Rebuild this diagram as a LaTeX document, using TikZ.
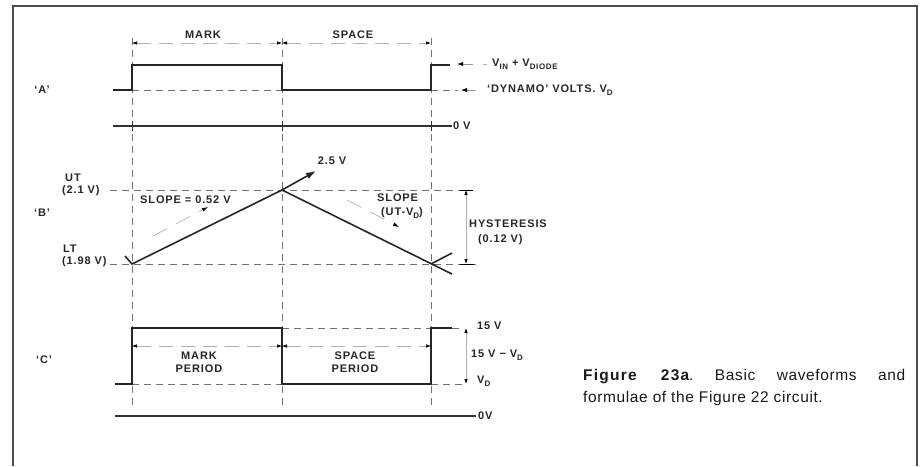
\documentclass[tikz,border=0pt]{standalone}
\usepackage{fontspec}
\setmainfont{Liberation Sans}
\newfontfamily\lblfont[LetterSpace=8]{Liberation Sans}
\newfontfamily\capfont[LetterSpace=4, BoldFeatures={LetterSpace=8}]{Liberation Sans}
\usetikzlibrary{arrows.meta}
\newcommand\dsub[1]{\raisebox{-0.5ex}{\fontsize{8}{8}\selectfont #1}}
\begin{document}
\begin{tikzpicture}[x=1pt,y=-1pt,
  sig/.style={line width=1.6pt, black!85, line join=miter},
  base/.style={line width=1.3pt, black!80},
  guide/.style={line width=1pt, black!55, dash pattern=on 7pt off 5pt},
  dimline/.style={line width=0.6pt, black!30, dash pattern=on 14pt off 8pt,
     {Latex[length=5pt,width=3.5pt,black]}-{Latex[length=5pt,width=3.5pt,black]}},
  slopearr/.style={line width=0.7pt, black!30, dash pattern=on 16pt off 10pt,
     -{Latex[length=6pt,width=4pt,black]}},
  ptr/.style={line width=0.6pt, black!40, -{Latex[length=6pt,width=4pt,black]}},
  lbl/.style={font=\lblfont\fontsize{11}{13}\selectfont\bfseries, inner sep=0pt, text=black!85},
  captxt/.style={font=\capfont\fontsize{15.5}{18}\selectfont\frenchspacing, inner sep=0pt, text=black!90},
]
\useasboundingbox (0,0) rectangle (921,466);
% frame
\draw[line width=1.5pt, black!70] (13,466) -- (13,6) -- (917,6) -- (917,466);

% vertical guides
\foreach \x/\n in {132/g1,282/g2,431/g3}{
  \coordinate (\n t) at (\x,38);
  \coordinate (\n b) at (\x,410);
  \draw[guide] (\n t) -- (\n b);
}

% ---------- A ----------
\coordinate (a0) at (113,90);
\coordinate (a1) at (132,90);
\coordinate (a2) at (132,65);
\coordinate (a3) at (282,65);
\coordinate (a4) at (282,90);
\coordinate (a5) at (431,90);
\coordinate (a6) at (431,65);
\coordinate (a7) at (450,65);
\draw[guide] (a1) -- (a4);
\draw[guide] (a5) -- (458,90);
\draw[sig] (a0) -- (a1) -- (a2) -- (a3) -- (a4) -- (a5) -- (a6) -- (a7);
\coordinate (mk1) at (132,43);
\coordinate (mk2) at (282,43);
\coordinate (mk3) at (431,43);
\draw[dimline] (mk1) -- (mk2);
\draw[dimline] (mk2) -- (mk3);
\node[lbl] (mark) at (203,35) {MARK};
\node[lbl] (space) at (353,35) {SPACE};
\node[lbl, anchor=west] (vin) at (492,64) {V\dsub{IN} + V\dsub{DIODE}};
\node[lbl, anchor=west] (dyn) at (487,90) {‘DYNAMO’ VOLTS. V\dsub{D}};
\coordinate (pv1) at (473,64);
\coordinate (pv2) at (457,64);
\coordinate (pd1) at (476,90);
\coordinate (pd2) at (461,90);
\draw[ptr] (pv1) -- (pv2);
\draw[ptr] (pd1) -- (pd2);
\draw[line width=0.6pt, black!30] (483,64) -- (487,64);
\node[lbl] (A) at (42,90) {‘A’};
\coordinate (za0) at (113,126);
\coordinate (za1) at (452,126);
\draw[base] (za0) -- (za1);
\foreach \x in {132,282,431}{\draw[line width=1pt, black!80] (\x,121) -- (\x,131);}
\node[lbl, anchor=west] (zA) at (453,126) {0 V};

% ---------- B ----------
\coordinate (ut0) at (110,190);
\coordinate (ut1) at (473,190);
\coordinate (lt0) at (110,264);
\coordinate (lt1) at (476,264);
\draw[guide] (ut0) -- (ut1);
\draw[guide] (lt0) -- (lt1);
\coordinate (b0) at (125,256);
\coordinate (b1) at (132,264);
\coordinate (b2) at (282,190);
\coordinate (b3) at (452,274);
\coordinate (b4) at (431,264);
\coordinate (b5) at (452,253);
\draw[sig] (b0) -- (b1) -- (b2) -- (b3);
\draw[sig] (b4) -- (b5);
\coordinate (b6) at (316,171);
\draw[sig, -{Latex[length=10pt,width=7pt]}] (b2) -- (b6);
\node[lbl] (v25) at (332,161) {2.5 V};
\node[lbl, anchor=west] (ut) at (65,178) {UT};
\node[lbl, anchor=west] (utv) at (62,191) {(2.1 V)};
\node[lbl, anchor=west] (lt) at (63,249) {LT};
\node[lbl, anchor=west] (ltv) at (62,262) {(1.98 V)};
\node[lbl] (B) at (42,213) {‘B’};
\node[lbl, anchor=west] (sl1) at (140,200) {SLOPE = 0.52 V};
\coordinate (s1a) at (153,236);
\coordinate (s1b) at (208,207);
\draw[slopearr] (s1a) -- (s1b);
\node[lbl, anchor=west] (sl2) at (377,198) {SLOPE};
\node[lbl, anchor=west] (sl2b) at (381,213) {(UT-V\dsub{D})};
\coordinate (s2a) at (347,200);
\coordinate (s2b) at (399,227);
\draw[slopearr] (s2a) -- (s2b);
\coordinate (h1) at (466,190);
\coordinate (h2) at (466,264);
\draw[line width=0.9pt] (460,190) -- (473,190);
\draw[line width=0.9pt] (460,264) -- (474,264);
\draw[dimline, dash pattern={}] (h1) -- (h2);
\node[lbl, anchor=west] (hys) at (469,224) {HYSTERESIS};
\node[lbl, anchor=west] (hysv) at (478,240) {(0.12 V)};

% ---------- C ----------
\coordinate (c0) at (115,384);
\coordinate (c1) at (132,384);
\coordinate (c2) at (132,328);
\coordinate (c3) at (282,328);
\coordinate (c4) at (282,384);
\coordinate (c5) at (431,384);
\coordinate (c6) at (431,328);
\coordinate (c7) at (452,328);
\draw[guide] (c3) -- (c6);
\draw[guide] (c7) -- (463,328);
\draw[guide] (c1) -- (c4);
\draw[guide] (c5) -- (462,384);
\draw[sig] (c0) -- (c1) -- (c2) -- (c3) -- (c4) -- (c5) -- (c6) -- (c7);
\coordinate (mp1) at (132,346);
\coordinate (mp2) at (282,346);
\coordinate (mp3) at (431,346);
\draw[dimline] (mp1) -- (mp2);
\draw[dimline] (mp2) -- (mp3);
\node[lbl, align=center] (mper) at (199,362) {MARK\\PERIOD};
\node[lbl, align=center] (sper) at (355,362) {SPACE\\PERIOD};
\coordinate (v1) at (466,328);
\coordinate (v2) at (466,384);
\draw[dimline, dash pattern={}] (v1) -- (v2);
\node[lbl, anchor=west] (v15) at (477,326) {15 V};
\node[lbl, anchor=west] (v15d) at (471,355) {15 V − V\dsub{D}};
\node[lbl, anchor=west] (vd) at (477,381) {V\dsub{D}};
\node[lbl] (C) at (44,360) {‘C’};
\coordinate (zc0) at (115,416);
\coordinate (zc1) at (476,416);
\draw[base] (zc0) -- (zc1);
\node[lbl, anchor=west] (zC) at (478,416) {0V};

% caption
\node[captxt, anchor=west] (cap1) at (583,377) {\makebox[322pt][s]{\textbf{Figure 23a}. Basic waveforms and}};
\node[captxt, anchor=west] (cap2) at (583,398) {formulae of the Figure 22 circuit.};
\end{tikzpicture}
\end{document}
